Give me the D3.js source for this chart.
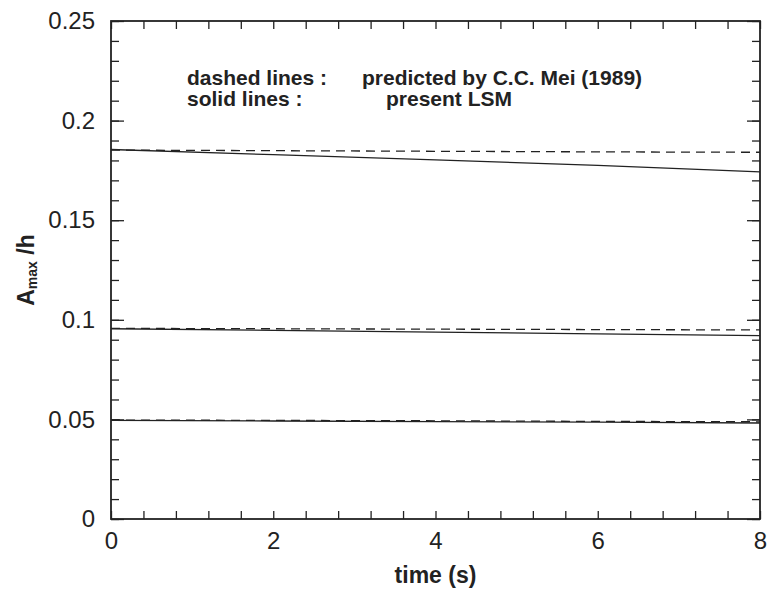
<!DOCTYPE html>
<html>
<head>
<meta charset="utf-8">
<script src="https://cdn.jsdelivr.net/npm/d3@7"></script>
<style>
  body { margin: 0; background: #fff; }
  svg { font-family: "Liberation Sans", Arial, sans-serif; }
</style>
</head>
<body>
<div id="chart"></div>
<script>
// time (s)
const times = [0, 2, 4, 6, 8]

// A_max / h
const dashedHigh = [0.1852, 0.1849, 0.1846, 0.1843, 0.1841]
const solidHigh = [0.1855, 0.1829, 0.1803, 0.1775, 0.1743]
const dashedMid = [0.0957, 0.0955, 0.0953, 0.0951, 0.0949]
const solidMid = [0.0955, 0.0947, 0.0938, 0.0929, 0.0921]
const dashedLow = [0.0497, 0.0495, 0.0493, 0.0490, 0.0488]
const solidLow = [0.0495, 0.0492, 0.0489, 0.0486, 0.0482]

const xTicks = [0, 2, 4, 6, 8]
const yTicks = [0, 0.05, 0.1, 0.15, 0.2, 0.25]
const yTickLabels = ["0", "0.05", "0.1", "0.15", "0.2", "0.25"]

const legendLines = [
    ["dashed lines :", "predicted by C.C. Mei (1989)"],
    ["solid lines :", "present LSM"]
]

const W = 768, H = 593
const margin = {top: 21, right: 8, bottom: 74, left: 111}
const width = W - margin.left - margin.right
const height = H - margin.top - margin.bottom

const svg = d3.select("#chart").append("svg")
    .attr("width", W)
    .attr("height", H)
    .append("g")
    .attr("transform", `translate(${margin.left}, ${margin.top})`)

const x = d3.scaleLinear().domain([0, 8]).range([0, width])
const y = d3.scaleLinear().domain([0, 0.25]).range([height, 0])

// minor ticks, all pointing inwards
const xMinor = d3.range(0, 8.001, 0.4)
const yMinor = d3.range(0, 0.2501, 0.01)

function tickAxis(axis, vals, len, tr) {
    const g = svg.append("g").attr("transform", tr || null)
        .call(axis.tickValues(vals).tickSize(len).tickFormat(""))
    g.select(".domain").remove()
    g.selectAll("line").attr("stroke", "#222").attr("stroke-width", 1.3)
    return g
}

tickAxis(d3.axisTop(x), xMinor, 8, `translate(0,${height})`)
tickAxis(d3.axisBottom(x), xMinor, 8)
tickAxis(d3.axisRight(y), yMinor, 8)
tickAxis(d3.axisLeft(y), yMinor, 8, `translate(${width},0)`)
tickAxis(d3.axisRight(y), yTicks, 13)
tickAxis(d3.axisLeft(y), yTicks, 13, `translate(${width},0)`)

// frame
svg.append("rect")
    .attr("width", width)
    .attr("height", height)
    .attr("fill", "none")
    .attr("stroke", "#222")
    .attr("stroke-width", 1.8)

// tick labels
const xLab = svg.append("g")
    .attr("transform", `translate(0,${height})`)
    .call(d3.axisBottom(x).tickValues(xTicks).tickSize(0).tickPadding(13).tickFormat(d3.format("d")))
xLab.select(".domain").remove()
xLab.selectAll("text").attr("font-size", 24).attr("fill", "#222").attr("font-family", null)

const yLab = svg.append("g")
    .call(d3.axisLeft(y).tickValues(yTicks).tickSize(0).tickPadding(16)
        .tickFormat((d, i) => yTickLabels[i]))
yLab.select(".domain").remove()
yLab.selectAll("text").attr("font-size", 24).attr("fill", "#222").attr("font-family", null)

// lines
const line = d3.line()
    .x((d, i) => x(times[i]))
    .y(d => y(d))

const series = [
    {vals: dashedHigh, dash: "9,6"},
    {vals: solidHigh, dash: null},
    {vals: dashedMid, dash: "9,6"},
    {vals: solidMid, dash: null},
    {vals: dashedLow, dash: "9,6"},
    {vals: solidLow, dash: null}
]

svg.selectAll(".series")
    .data(series)
    .enter().append("path")
    .attr("class", "series")
    .attr("d", d => line(d.vals))
    .attr("fill", "none")
    .attr("stroke", "#222")
    .attr("stroke-width", 1.3)
    .attr("stroke-dasharray", d => d.dash)

// legend text
const leg = svg.append("g")
    .attr("font-size", 21)
    .attr("font-weight", "bold")
    .attr("fill", "#222")
legendLines.forEach((l, i) => {
    leg.append("text").attr("x", 76).attr("y", 64 + i * 21).text(l[0])
    leg.append("text").attr("x", i === 0 ? 251 : 275).attr("y", 64 + i * 21).text(l[1])
})

// axis titles
svg.append("text")
    .attr("x", width / 2)
    .attr("y", height + 64)
    .attr("text-anchor", "middle")
    .attr("font-size", 23)
    .attr("font-weight", "bold")
    .attr("fill", "#222")
    .text("time (s)")

const yt = svg.append("text")
    .attr("transform", `translate(-77,${height / 2}) rotate(-90)`)
    .attr("text-anchor", "middle")
    .attr("font-size", 23)
    .attr("font-weight", "bold")
    .attr("fill", "#222")
yt.append("tspan").text("A")
yt.append("tspan").attr("font-size", 14).attr("dy", 3).text("max")
yt.append("tspan").attr("dy", -3).text(" /h")
</script>
</body>
</html>
